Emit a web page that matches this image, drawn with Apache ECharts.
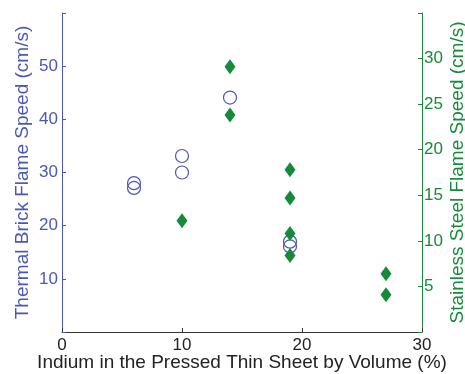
<!DOCTYPE html>
<html>
<head>
<meta charset="utf-8">
<script src="https://cdn.jsdelivr.net/npm/echarts@6/dist/echarts.min.js"></script>
<style>html,body{margin:0;padding:0;background:#fff;}#c{width:465px;height:374px;}</style>
</head>
<body>
<div id="c"></div>
<script>
// Thermal brick (left axis), hollow circles
const brickX = [6, 6, 10, 10, 14, 19, 19];
const brickY = [28, 27.1, 33.1, 30, 44.1, 17, 16.1];
// Stainless steel (right axis), filled diamonds
const steelX = [10, 14, 14, 19, 19, 19, 19, 27, 27];
const steelY = [12.2, 29.1, 23.8, 17.8, 14.7, 10.8, 8.4, 6.4, 4.1];
const xTicks = [0, 10, 20, 30];
const leftTicks = [10, 20, 30, 40, 50];
const rightTicks = [5, 10, 15, 20, 25, 30];

const BLUE = '#4b57b5';
const GREEN = '#178a3a';
const FONT = 'Liberation Sans';
const TITLE = 19;

const chart = echarts.init(document.getElementById('c'));
chart.setOption({
  animation: false,
  grid: {left: 62, right: 43, top: 13, bottom: 42, containLabel: false, outerBoundsMode: 'none'},
  xAxis: {
    type: 'value', min: 0, max: 30, interval: 10,
    name: 'Indium in the Pressed Thin Sheet by Volume (%)',
    nameLocation: 'middle', nameGap: 21, nameMoveOverlap: false,
    nameTextStyle: {color: '#222', fontSize: TITLE, fontFamily: FONT},
    axisLine: {show: true, lineStyle: {color: '#333', width: 1}},
    axisTick: {show: true, inside: true, length: 4, lineStyle: {color: '#333'}},
    axisLabel: {color: '#222', fontSize: 17, fontFamily: FONT, margin: 5,
      formatter: v => xTicks.includes(v) ? String(v) : ''},
    splitLine: {show: false}
  },
  yAxis: [{
    type: 'value', position: 'left', min: 0, max: 60, interval: 10,
    name: 'Thermal Brick Flame Speed (cm/s)',
    nameLocation: 'middle', nameGap: 30, nameMoveOverlap: false,
    nameTextStyle: {color: BLUE, fontSize: TITLE, fontFamily: FONT},
    axisLine: {show: true, lineStyle: {color: BLUE, width: 1}},
    axisTick: {show: true, inside: true, length: 4, lineStyle: {color: BLUE}},
    axisLabel: {color: BLUE, fontSize: 17, fontFamily: FONT, margin: 4,
      formatter: v => leftTicks.includes(v) ? String(v) : ''},
    splitLine: {show: false}
  }, {
    type: 'value', position: 'right', min: 0, max: 35, interval: 5,
    name: 'Stainless Steel Flame Speed (cm/s)',
    nameLocation: 'middle', nameGap: 26, nameMoveOverlap: false,
    nameTextStyle: {color: GREEN, fontSize: TITLE, fontFamily: FONT},
    axisLine: {show: true, lineStyle: {color: GREEN, width: 1}},
    axisTick: {show: true, inside: true, length: 4, lineStyle: {color: GREEN}},
    axisLabel: {color: GREEN, fontSize: 17, fontFamily: FONT, margin: 2,
      formatter: v => rightTicks.includes(v) ? String(v) : ''},
    splitLine: {show: false}
  }],
  series: [{
    type: 'scatter', yAxisIndex: 0,
    data: brickX.map((x, i) => [x, brickY[i]]),
    symbol: 'circle', symbolSize: 13,
    itemStyle: {color: 'rgba(0,0,0,0)', borderColor: BLUE, borderWidth: 1.2, opacity: 1}
  }, {
    type: 'scatter', yAxisIndex: 1,
    data: steelX.map((x, i) => [x, steelY[i]]),
    symbol: 'diamond', symbolSize: [11, 15],
    itemStyle: {color: GREEN, opacity: 1}
  }]
});
</script>
</body>
</html>
